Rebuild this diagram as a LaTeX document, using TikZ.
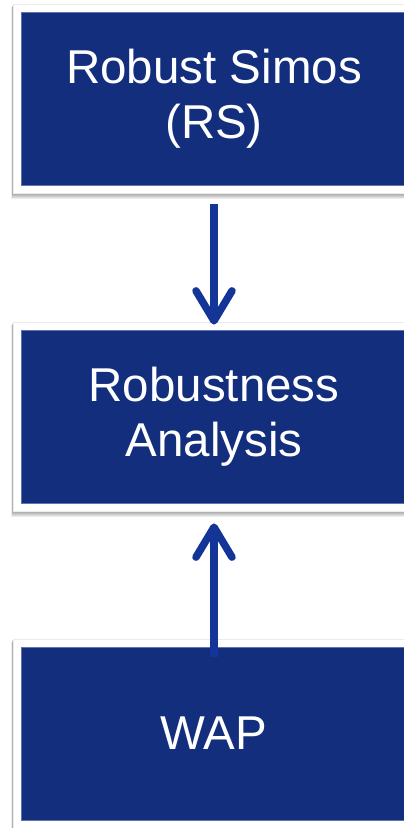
\documentclass[tikz,border=0pt]{standalone}
\usepackage{fontspec}
\setmainfont{Liberation Sans}
\usetikzlibrary{arrows.meta,calc}
\definecolor{navy}{RGB}{18,46,124}
\definecolor{arrowblue}{RGB}{19,53,152}
\definecolor{navyedge}{RGB}{95,115,175}
\begin{document}
\begin{tikzpicture}[x=1pt,y=-1pt,
  box/.style={fill=navy, draw=navyedge, line width=0.8pt, minimum width=386pt, minimum height=173pt,
    text=white, align=center, font=\fontsize{47.5}{55}\selectfont, inner sep=0pt},
  conn/.style={draw=arrowblue, line width=7.5pt, -{Straight Barb[length=30pt,width=36pt,round]}}]
\useasboundingbox (0,0) rectangle (404,828);
\clip (0,0) rectangle (404,828);
% frames with soft shadow
\foreach \t/\b in {4/193, 322/511, 639/828}{
  \foreach \d in {1,...,6}{
    \fill[black, opacity=0.07] (13-0.3*\d,\t+0.5*\d) rectangle (416,\b+\d);
  }
  \fill[white] (13,\t) rectangle (416,\b);
  \draw[black!8, line width=0.6pt] (13,\t) rectangle (416,\b);
}
\node[box] (rs) at (214,98.5) {Robust Simos\\(RS)};
\node[box] (ra) at (214,416.5) {Robustness\\Analysis};
\node[box] (wap) at (214,733.5) {WAP};
\draw[conn] ($(rs.south)+(0,19)$) -- ($(ra.north)+(0,-5)$);
\draw[conn] ($(wap.north)+(0,10)$) -- ($(ra.south)+(0,20)$);
\end{tikzpicture}
\end{document}
